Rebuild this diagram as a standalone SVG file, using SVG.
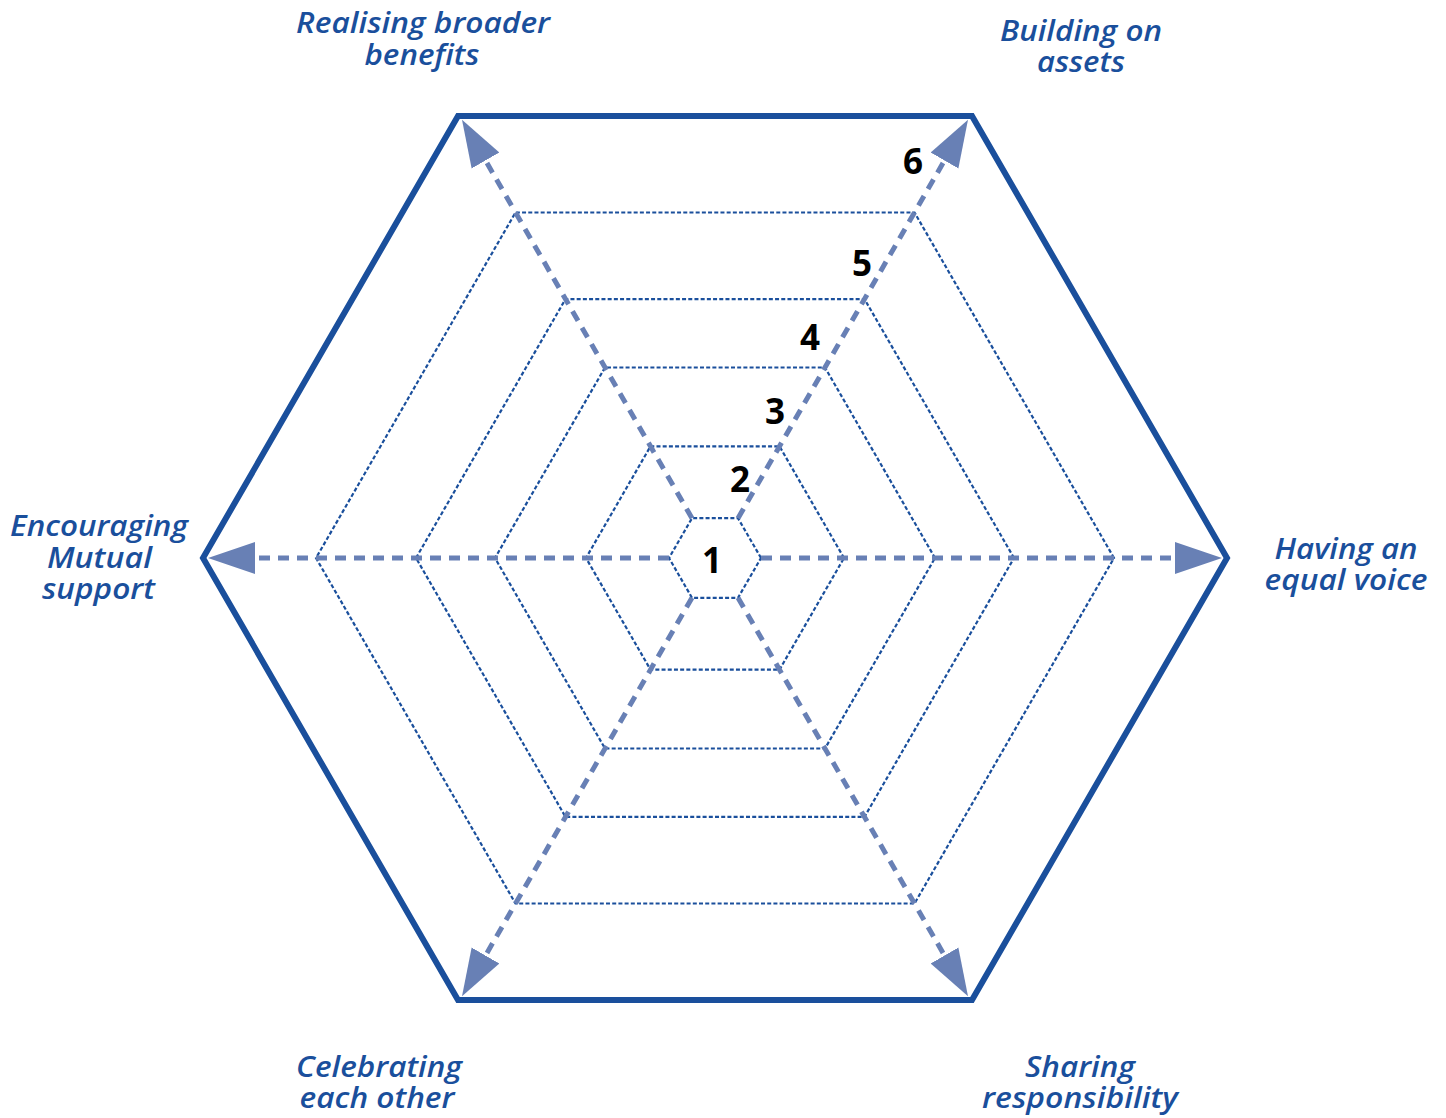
<svg xmlns="http://www.w3.org/2000/svg" width="1446" height="1118" viewBox="0 0 1446 1118">
<style>
.outer{fill:none;stroke:#1a4f9c;stroke-width:6;stroke-linejoin:miter}
.ring{fill:none;stroke:#1a4f9c;stroke-width:2.2;stroke-dasharray:4 2.2}
.axis{fill:none;stroke:#6880b5;stroke-width:5;stroke-dasharray:11 8;marker-end:url(#ah)}
.num{font-family:"Open Sans","DejaVu Sans",sans-serif;font-weight:700;font-size:35px;fill:#000;text-anchor:middle}
.lbl{font-family:"Open Sans","DejaVu Sans",sans-serif;font-style:italic;font-weight:600;font-size:29px;fill:#1a4f9c;text-anchor:middle}
</style>
<defs>
<marker id="ah" markerUnits="userSpaceOnUse" markerWidth="48" markerHeight="34" viewBox="0 0 48 34" refX="0" refY="17" orient="auto">
<path d="M0,1 L47,17 L0,33 Z" fill="#6880b5"/>
</marker>
</defs>
<rect width="1446" height="1118" fill="#fff"/>
<g id="outer-hexagon"><polygon class="outer" points="203,558 458,116 972,116 1227,558 972,1000 458,1000"/></g>
<g id="level-rings">
<polygon class="ring" points="761,558 738,518.2 692,518.2 669,558 692,597.8 738,597.8"/>
<polygon class="ring" points="844,558 779.5,446.3 650.5,446.3 586,558 650.5,669.7 779.5,669.7"/>
<polygon class="ring" points="935,558 825,367.5 605,367.5 495,558 605,748.5 825,748.5"/>
<polygon class="ring" points="1014,558 864.5,299.1 565.5,299.1 416,558 565.5,816.9 864.5,816.9"/>
<polygon class="ring" points="1114,558 914.5,212.5 515.5,212.5 316,558 515.5,903.5 914.5,903.5"/>
</g>
<g id="connectors">
<line class="axis" x1="761" y1="558" x2="1175" y2="558"/>
<line class="axis" x1="669" y1="558" x2="255" y2="558"/>
<line class="axis" x1="738" y1="518.2" x2="944.5" y2="160.5"/>
<line class="axis" x1="692" y1="518.2" x2="485.5" y2="160.5"/>
<line class="axis" x1="692" y1="597.8" x2="485.5" y2="955.5"/>
<line class="axis" x1="738" y1="597.8" x2="944.5" y2="955.5"/>
</g>
<g id="scale-numbers">
<text class="num" x="712" y="573">1</text>
<text class="num" x="740" y="492">2</text>
<text class="num" x="775" y="424">3</text>
<text class="num" x="810" y="350">4</text>
<text class="num" x="862" y="276">5</text>
<text class="num" x="913" y="174">6</text>
</g>
<g id="label-realising">
<text class="lbl" x="423" y="33" textLength="254" lengthAdjust="spacingAndGlyphs">Realising broader</text>
<text class="lbl" x="422" y="65" textLength="115" lengthAdjust="spacingAndGlyphs">benefits</text>
</g>
<g id="label-building">
<text class="lbl" x="1081" y="41" textLength="162" lengthAdjust="spacingAndGlyphs">Building on</text>
<text class="lbl" x="1081" y="72" textLength="88" lengthAdjust="spacingAndGlyphs">assets</text>
</g>
<g id="label-encouraging">
<text class="lbl" x="99" y="536" textLength="178" lengthAdjust="spacingAndGlyphs">Encouraging</text>
<text class="lbl" x="99.5" y="568" textLength="105" lengthAdjust="spacingAndGlyphs">Mutual</text>
<text class="lbl" x="98.5" y="599" textLength="113" lengthAdjust="spacingAndGlyphs">support</text>
</g>
<g id="label-having">
<text class="lbl" x="1346" y="559" textLength="143" lengthAdjust="spacingAndGlyphs">Having an</text>
<text class="lbl" x="1346" y="590" textLength="163" lengthAdjust="spacingAndGlyphs">equal voice</text>
</g>
<g id="label-celebrating">
<text class="lbl" x="379" y="1077" textLength="166" lengthAdjust="spacingAndGlyphs">Celebrating</text>
<text class="lbl" x="377" y="1108" textLength="155" lengthAdjust="spacingAndGlyphs">each other</text>
</g>
<g id="label-sharing">
<text class="lbl" x="1080" y="1077" textLength="110" lengthAdjust="spacingAndGlyphs">Sharing</text>
<text class="lbl" x="1080" y="1108" textLength="196" lengthAdjust="spacingAndGlyphs">responsibility</text>
</g>
</svg>
